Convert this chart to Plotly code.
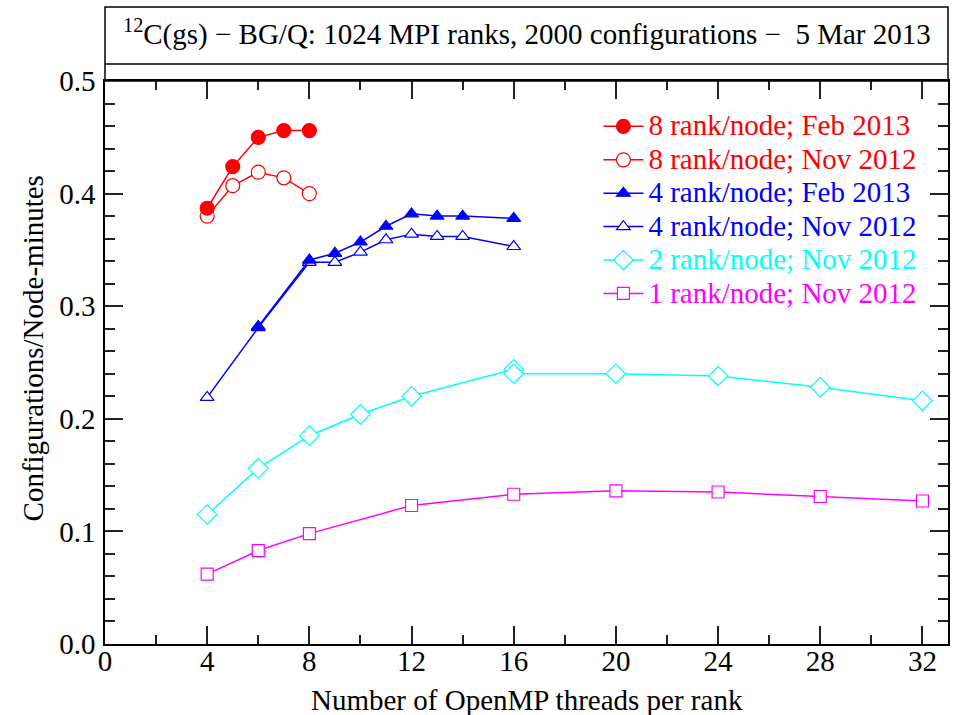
import plotly.graph_objects as go

# ---- data ----
x_8_feb = [4, 5, 6, 7, 8]
y_8_feb = [0.387, 0.424, 0.450, 0.456, 0.456]

x_8_nov = [4, 5, 6, 7, 8]
y_8_nov = [0.380, 0.407, 0.419, 0.414, 0.400]

x_4_feb = [6, 8, 9, 10, 11, 12, 13, 14, 16]
y_4_feb = [0.282, 0.341, 0.347, 0.357, 0.371, 0.382, 0.380, 0.380, 0.378]

x_4_nov = [4, 6, 8, 9, 10, 11, 12, 13, 14, 16]
y_4_nov = [0.219, 0.281, 0.339, 0.339, 0.348, 0.359, 0.364, 0.362, 0.362, 0.353]

x_2_nov = [4, 6, 8, 10, 12, 16, 16, 20, 24, 28, 32]
y_2_nov = [0.115, 0.156, 0.185, 0.204, 0.220, 0.244, 0.240, 0.240, 0.238, 0.228, 0.216]

x_1_nov = [4, 6, 8, 12, 16, 20, 24, 28, 32]
y_1_nov = [0.062, 0.083, 0.098, 0.123, 0.133, 0.136, 0.135, 0.131, 0.127]

x_ticks = [0, 4, 8, 12, 16, 20, 24, 28, 32]
y_ticks = [0.0, 0.1, 0.2, 0.3, 0.4, 0.5]

RED, BLUE, CYAN, MAG = "#ff0000", "#0000ff", "#00ffff", "#ff00ff"
FONT = "Liberation Serif"
FS = 29

fig = go.Figure()

def add(x, y, color, symbol, size, name, rank, filled):
    fig.add_trace(go.Scatter(
        x=x, y=y, mode="lines+markers",
        name=f'<span style="color:{color};font-size:{FS}px">{name}</span>',
        line=dict(color=color, width=1.5),
        marker=dict(symbol=symbol, size=size,
                    color=color if filled else "white",
                    line=dict(color=color, width=1.2)),
        legendrank=rank,
    ))

# drawing order: Nov under Feb
add(x_8_nov, y_8_nov, RED, "circle", 14, "8 rank/node; Nov 2012", 2, False)
add(x_8_feb, y_8_feb, RED, "circle", 14, "8 rank/node; Feb 2013", 1, True)
add(x_4_nov, y_4_nov, BLUE, "triangle-up", 12, "4 rank/node; Nov 2012", 4, False)
add(x_4_feb, y_4_feb, BLUE, "triangle-up", 12, "4 rank/node; Feb 2013", 3, True)
add(x_2_nov, y_2_nov, CYAN, "diamond", 15, "2 rank/node; Nov 2012", 5, False)
add(x_1_nov, y_1_nov, MAG, "square", 12, "1 rank/node; Nov 2012", 6, False)

axis_common = dict(
    showline=True, linecolor="black", linewidth=1.5, mirror="allticks",
    ticks="inside", tickcolor="#222", tickwidth=1.5, ticklen=18,
    showgrid=False, zeroline=False, automargin=False,
    tickfont=dict(family=FONT, size=FS, color="black"),
)

fig.update_xaxes(
    range=[0, 33], tickvals=x_ticks, ticktext=[str(v) for v in x_ticks],
    minor=dict(dtick=2, ticks="inside", ticklen=9, tickcolor="#222", tickwidth=1.5),
    ticklabelstandoff=-10,
    **axis_common,
)
fig.update_yaxes(
    range=[0, 0.5], tickvals=y_ticks, ticktext=[f"{v:.1f}" for v in y_ticks],
    minor=dict(dtick=0.02, ticks="inside", ticklen=10, tickcolor="#222", tickwidth=1.5),
    ticklabelstandoff=2,
    **axis_common,
)

# axis titles
fig.add_annotation(
    xref="paper", yref="paper", x=0.5, y=-0.1, xanchor="center", yanchor="middle",
    text="Number of OpenMP threads per rank", showarrow=False,
    font=dict(family=FONT, size=FS, color="black"),
)
fig.add_annotation(
    xref="paper", yref="paper", x=-0.0854, y=0.525, xanchor="center", yanchor="middle",
    text="Configurations/Node-minutes", textangle=-90, showarrow=False,
    font=dict(family=FONT, size=FS, color="black"),
)

# title box
fig.add_shape(type="rect", xref="paper", yref="paper", x0=0, x1=1, y0=1.0, y1=1.1314,
              line=dict(color="black", width=1.5), fillcolor="rgba(0,0,0,0)", layer="above")
fig.add_shape(type="line", xref="paper", yref="paper", x0=0, x1=1, y0=1.0302, y1=1.0302,
              line=dict(color="black", width=1.5))
fig.add_annotation(
    xref="paper", yref="paper", x=0.5, y=1.087, xanchor="center", yanchor="middle",
    text="<sup>12</sup>C(gs) − BG/Q: 1024 MPI ranks, 2000 configurations −  5 Mar 2013",
    showarrow=False, font=dict(family=FONT, size=FS, color="black"),
)

fig.update_layout(
    width=953, height=715,
    margin=dict(l=105, r=5, t=81, b=71, autoexpand=False),
    paper_bgcolor="white", plot_bgcolor="white",
    font=dict(family=FONT, size=FS, color="black"),
    legend=dict(x=0.5853, y=0.958, xanchor="left", yanchor="top",
                bgcolor="rgba(0,0,0,0)", font=dict(family=FONT, size=23.4),
                tracegroupgap=0, itemwidth=40),
    showlegend=True,
)

fig.write_html("out.html")
